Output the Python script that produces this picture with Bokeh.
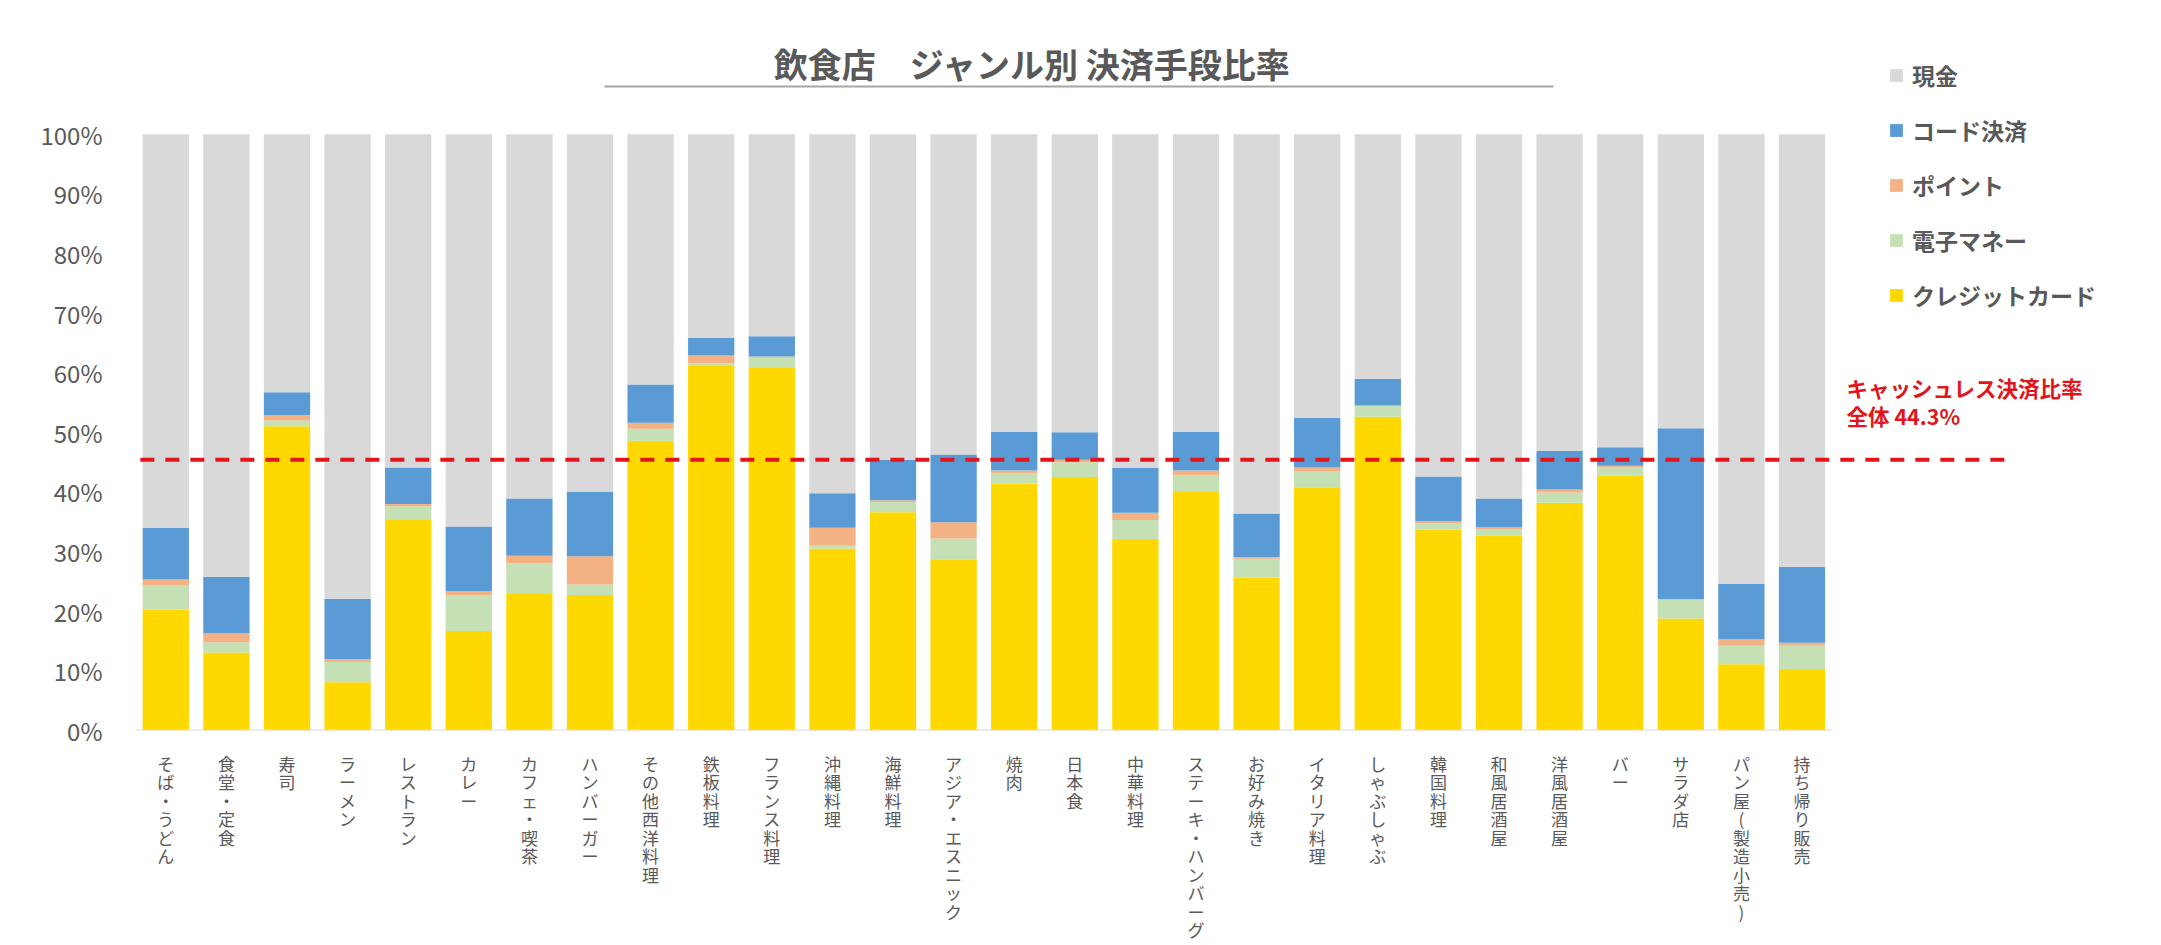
from bokeh.plotting import figure
from bokeh.models import (ColumnDataSource, FixedTicker, Legend, LegendItem,
                          Label, BoxAnnotation, Range1d)
from bokeh.embed import file_html
from bokeh.resources import INLINE

# ---------------- data ----------------
categories = ["そば・うどん", "食堂・定食", "寿司", "ラーメン", "レストラン", "カレー",
              "カフェ・喫茶", "ハンバーガー", "その他西洋料理", "鉄板料理", "フランス料理",
              "沖縄料理", "海鮮料理", "アジア・エスニック", "焼肉", "日本食", "中華料理",
              "ステーキ・ハンバーグ", "お好み焼き", "イタリア料理", "しゃぶしゃぶ", "韓国料理",
              "和風居酒屋", "洋風居酒屋", "バー", "サラダ店", "パン屋(製造小売)", "持ち帰り販売"]

credit = [20.3, 13.1, 51.0, 8.1, 35.3, 16.7, 22.9, 22.7, 48.6, 61.1, 60.8, 30.5, 36.6, 28.7,
          41.4, 42.5, 32.1, 40.0, 25.6, 40.8, 52.6, 33.7, 32.7, 38.2, 42.8, 18.8, 11.1, 10.3]
emoney = [4.1, 1.7, 1.0, 3.4, 2.3, 6.0, 5.1, 1.8, 2.0, 0.5, 1.7, 0.5, 1.7, 3.5,
          1.7, 2.5, 3.2, 2.8, 3.2, 2.7, 1.9, 1.1, 1.1, 1.7, 1.3, 3.2, 3.1, 3.9]
point = [0.9, 1.5, 0.9, 0.5, 0.4, 0.7, 1.3, 4.7, 1.0, 1.3, 0.2, 3.0, 0.3, 2.7,
         0.5, 0.4, 1.2, 0.8, 0.3, 0.6, 0.0, 0.3, 0.3, 0.5, 0.3, 0.0, 1.1, 0.5]
code = [8.7, 9.5, 3.8, 10.1, 6.1, 10.8, 9.6, 10.8, 6.4, 2.9, 3.4, 5.8, 6.8, 11.4,
        6.5, 4.6, 7.5, 6.5, 7.3, 8.3, 4.5, 7.5, 4.8, 6.5, 3.1, 28.7, 9.3, 12.7]
cash = [round(100 - a - b - c - d, 1) for a, b, c, d in zip(credit, emoney, point, code)]

series_names = ["クレジットカード", "電子マネー", "ポイント", "コード決済", "現金"]
series_keys = ["credit", "emoney", "point", "code", "cash"]
series_colors = ["#FFD800", "#C5E0B4", "#F4B183", "#5B9BD5", "#D9D9D9"]

y_ticks = [0, 10, 20, 30, 40, 50, 60, 70, 80, 90, 100]
y_tick_labels = ["0%", "10%", "20%", "30%", "40%", "50%", "60%", "70%", "80%", "90%", "100%"]

cashless_line = 45.4
cashless_text1 = "キャッシュレス決済比率"
cashless_text2 = "全体 44.3%"
title_text = "飲食店　ジャンル別 決済手段比率"

# ---------------- layout (pixels) ----------------
FONT = "Noto Sans CJK JP"
TXT = "#595959"
RED = "#E0161C"
W, H = 2155, 945
LEFT, BOTTOM = 135, 213          # frame covers everything right/above of these
PX_PER_PCT = 5.98                # vertical pixels per 1 %
PX_PER_CAT = 60.6                # horizontal pixels per category
frame_h = H - BOTTOM
frame_w = W - LEFT

n = len(categories)
xs = list(range(n))
y_end = frame_h / PX_PER_PCT
x_end = -0.5 + frame_w / PX_PER_CAT

src = ColumnDataSource(dict(x=xs, credit=credit, emoney=emoney, point=point,
                            code=code, cash=cash))

p = figure(width=W, height=H, output_backend="svg", toolbar_location=None,
           x_range=Range1d(-0.5, x_end), y_range=Range1d(0, y_end),
           min_border_left=LEFT, min_border_right=0, min_border_top=0,
           min_border_bottom=BOTTOM)
p.outline_line_color = None
p.xgrid.visible = False
p.ygrid.visible = False
p.background_fill_color = "white"

rs = p.vbar_stack(series_keys, x="x", width=0.764, fill_color=series_colors,
                  line_color=None, source=src)

# baseline under the bars
p.segment(x0=[-0.5], x1=[n - 0.5], y0=[0], y1=[0], line_color="#D9D9D9", line_width=2)

# reference dashed line
p.segment(x0=[-0.42], x1=[n + 2.5], y0=[cashless_line], y1=[cashless_line],
          line_color=RED, line_width=4, line_dash="14 11")

# x axis
xa = p.xaxis[0]
xa.ticker = FixedTicker(ticks=xs)
xa.major_label_overrides = {i: "\n".join(list(c)) for i, c in zip(xs, categories)}
xa.axis_line_color = None
xa.major_tick_line_color = None
xa.minor_tick_line_color = None
xa.major_label_standoff = 14
xa.major_label_text_font = FONT
xa.major_label_text_font_size = "17px"
xa.major_label_text_color = TXT
xa.major_label_text_line_height = 0.74

# y axis
ya = p.yaxis[0]
ya.ticker = FixedTicker(ticks=y_ticks)
ya.major_label_overrides = {t: l for t, l in zip(y_ticks, y_tick_labels)}
ya.axis_line_color = None
ya.major_tick_line_color = None
ya.minor_tick_line_color = None
ya.major_label_standoff = 27
ya.major_label_text_font = FONT
ya.major_label_text_font_size = "24px"
ya.major_label_text_color = TXT

# legend (reverse order: top = 現金)
items = [LegendItem(label=nm, renderers=[r]) for nm, r in zip(series_names, rs)][::-1]
legend = Legend(items=items, location=(1753, 418), padding=0, margin=0,
                spacing=21, glyph_width=16, glyph_height=16, label_height=24,
                label_standoff=8, background_fill_alpha=0, border_line_color=None,
                label_text_font=FONT, label_text_font_size="23px",
                label_text_font_style="bold", label_text_color=TXT)
p.add_layout(legend, "center")

# title + underline
p.add_layout(Label(x=897, y=667, x_units="screen", y_units="screen", text=title_text,
                   text_align="center", text_baseline="middle", text_font=FONT,
                   text_font_size="34px", text_font_style="bold", text_color=TXT))
p.add_layout(BoxAnnotation(left=469, right=1418, bottom=643, top=645,
                           left_units="screen", right_units="screen",
                           bottom_units="screen", top_units="screen",
                           fill_color="#A6A6A6", fill_alpha=1, line_color=None))

# cashless annotation
p.add_layout(Label(x=1711, y=343, x_units="screen", y_units="screen", text=cashless_text1,
                   text_align="left", text_baseline="middle", text_font=FONT,
                   text_font_size="21.5px", text_font_style="bold", text_color=RED))
p.add_layout(Label(x=1711, y=315, x_units="screen", y_units="screen", text=cashless_text2,
                   text_align="left", text_baseline="middle", text_font=FONT,
                   text_font_size="21.5px", text_font_style="bold", text_color=RED))

open("out.html", "w").write(file_html(p, INLINE))
